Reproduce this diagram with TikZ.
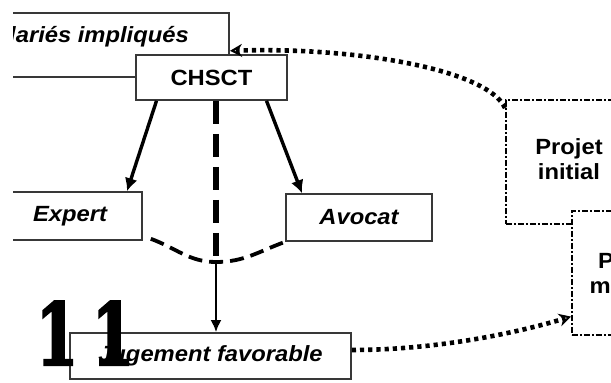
\documentclass[tikz,border=0pt]{standalone}
\usepackage{fontspec}
\setmainfont{Liberation Sans}[FakeStretch=1.08]
\newfontfamily\numfont{DejaVu Serif}[FakeStretch=0.7,FakeBold=2.5]
\usetikzlibrary{arrows.meta}
\usetikzlibrary{positioning}
\definecolor{boxgray}{HTML}{383838}
\tikzset{
    lbl/.style={
           font=\fontsize{22}{25}\selectfont\bfseries,
           },
    box/.style={
           rectangle,
           lbl,
           draw=boxgray, line width=1.6pt,
           fill=white,
           inner sep=2pt,
           text centered,
           },
    projbox/.style={
           box,
           draw=black,
           line width=1.6pt,
           dash pattern=on 6pt off 2pt on 2pt off 2pt,
           align=center,
           },
}

\begin{document}
\begin{tikzpicture}[x=1pt,y=1pt,
  solidlink/.style={line width=3.4pt,-{Latex[length=13pt,width=13pt]}},
  thinlink/.style={line width=2.4pt,-{Latex[length=12pt,width=11pt]}},
  dashlink/.style={line width=6pt,dash pattern=on 23pt off 10pt},
  vlink/.style={line width=3.8pt,dash pattern=on 14pt off 7pt},
  dotlink/.style={line width=4.6pt,dash pattern=on 4.2pt off 4pt,
    -{Stealth[open,length=12pt,width=13pt,line width=2.6pt]}},
]

 \useasboundingbox (0,0) rectangle (611,-383);
 \clip (13,0) rectangle (611,-383);

 % Salariés box, runs off the left border
 \node[box,
  anchor=north east,
  minimum width=270pt,
  minimum height=64pt] (sal) at (230,-12) {};
 \node[lbl, anchor=base east, inner sep=0pt] (saltext)
  at ([xshift=-41pt,yshift=-30pt]sal.north east) {\itshape Salariés impliqués};

 % CHSCT sits on top of the Salariés box
 \node[box,
  minimum width=151pt,
  minimum height=45pt] (chsct) at (211.5,-77.5) {CHSCT};

 \node[box,
  below of=chsct,
  node distance=138.5pt,
  xshift=-141.5pt,
  anchor=center,
  minimum width=144pt,
  minimum height=48pt] (expert) {\itshape Expert};

 \node[box,
  below of=chsct,
  node distance=140pt,
  xshift=147.5pt,
  anchor=center,
  minimum width=146pt,
  minimum height=47pt] (avocat) {\itshape Avocat};

 \node[box,
  below of=chsct,
  node distance=278.5pt,
  xshift=-1pt,
  anchor=center,
  minimum width=281pt,
  minimum height=46pt] (jug) {\itshape Jugement favorable};

 \coordinate (junct) at (216,-262);

 % the two projects, the second one over the first
 \node[projbox,
  anchor=north west,
  minimum width=220pt,
  minimum height=124pt] (projini) at (505,-99) {};
 \node[lbl, align=center] (initext) at (569,-159) {Projet\\initial};

 \node[projbox,
  anchor=north west,
  minimum width=120pt,
  minimum height=124pt] (projmod) at (571,-210) {Projet\\modifié};

 % links
 \draw[solidlink] ([xshift=-55pt]chsct.south) -- ([xshift=57pt]expert.north);
 \draw[solidlink] ([xshift=55pt]chsct.south) -- ([xshift=-57pt]avocat.north);
 \draw[dashlink] (chsct.south -| junct) -- (junct);
 \draw[vlink] ([xshift=8pt,yshift=2pt]expert.south east) to[out=-20,in=180] (junct)
  to[out=0,in=200] (avocat.south west);
 \draw[thinlink] (junct) -- (jug.north -| junct);

 \draw[dotlink] ([yshift=6pt]jug.east) .. controls +(80,0) and +(-60,-18) .. ([yshift=19pt]projmod.south west);
 \draw[dotlink] ([yshift=-9pt]projini.north west) .. controls +(-17,38) and +(128,4) .. ([yshift=-6pt]sal.east);

 % page number printed over the picture
 \node[font={\numfont\bfseries\fontsize{86}{86}\selectfont}, anchor=base west, inner sep=0pt] (pagenum)
  at (36,-365) {1\kern14pt 1};

\end{tikzpicture}
\end{document}
